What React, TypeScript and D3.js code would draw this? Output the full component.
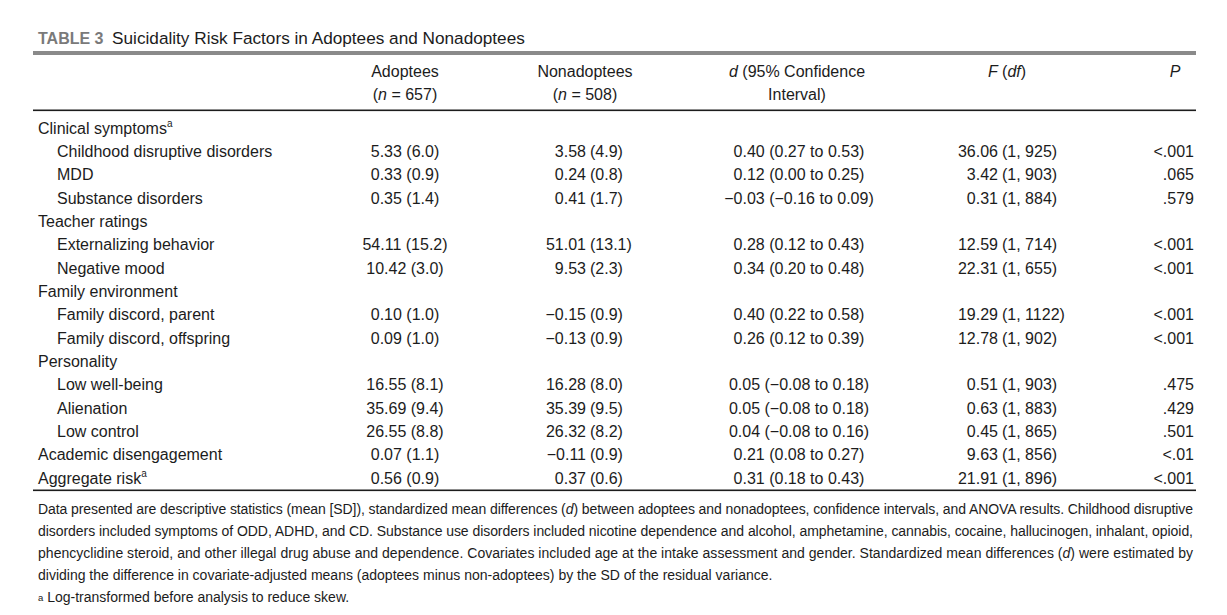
import React, { useEffect, useRef } from 'react';
import * as d3 from 'd3';

const title = 'Suicidality Risk Factors in Adoptees and Nonadoptees';

const rowLabels = [
  'Clinical symptoms', 'Childhood disruptive disorders', 'MDD', 'Substance disorders',
  'Teacher ratings', 'Externalizing behavior', 'Negative mood',
  'Family environment', 'Family discord, parent', 'Family discord, offspring',
  'Personality', 'Low well-being', 'Alienation', 'Low control',
  'Academic disengagement', 'Aggregate risk',
];
const rowIndent = [0, 1, 1, 1, 0, 1, 1, 0, 1, 1, 0, 1, 1, 1, 0, 0];
const rowSup = [true, false, false, false, false, false, false, false, false, false, false, false, false, false, false, true];

const adopteeMean = ['', '5.33', '0.33', '0.35', '', '54.11', '10.42', '', '0.10', '0.09', '', '16.55', '35.69', '26.55', '0.07', '0.56'];
const adopteeSD = ['', '6.0', '0.9', '1.4', '', '15.2', '3.0', '', '1.0', '1.0', '', '8.1', '9.4', '8.8', '1.1', '0.9'];
const nonMean = ['', '3.58', '0.24', '0.41', '', '51.01', '9.53', '', '−0.15', '−0.13', '', '16.28', '35.39', '26.32', '−0.11', '0.37'];
const nonSD = ['', '4.9', '0.8', '1.7', '', '13.1', '2.3', '', '0.9', '0.9', '', '8.0', '9.5', '8.2', '0.9', '0.6'];
const dValues = ['', '0.40', '0.12', '−0.03', '', '0.28', '0.34', '', '0.40', '0.26', '', '0.05', '0.05', '0.04', '0.21', '0.31'];
const ciLow = ['', '0.27', '0.00', '−0.16', '', '0.12', '0.20', '', '0.22', '0.12', '', '−0.08', '−0.08', '−0.08', '0.08', '0.18'];
const ciHigh = ['', '0.53', '0.25', '0.09', '', '0.43', '0.48', '', '0.58', '0.39', '', '0.18', '0.18', '0.16', '0.27', '0.43'];
const fValues = ['', '36.06', '3.42', '0.31', '', '12.59', '22.31', '', '19.29', '12.78', '', '0.51', '0.63', '0.45', '9.63', '21.91'];
const dfValues = ['', '1, 925', '1, 903', '1, 884', '', '1, 714', '1, 655', '', '1, 1122', '1, 902', '', '1, 903', '1, 883', '1, 865', '1, 856', '1, 896'];
const pValues = ['', '<.001', '.065', '.579', '', '<.001', '<.001', '', '<.001', '<.001', '', '.475', '.429', '.501', '<.01', '<.001'];

const footLines = [
  'Data presented are descriptive statistics (mean [SD]), standardized mean differences (|d|) between adoptees and nonadoptees, confidence intervals, and ANOVA results. Childhood disruptive',
  'disorders included symptoms of ODD, ADHD, and CD. Substance use disorders included nicotine dependence and alcohol, amphetamine, cannabis, cocaine, hallucinogen, inhalant, opioid,',
  'phencyclidine steroid, and other illegal drug abuse and dependence. Covariates included age at the intake assessment and gender. Standardized mean differences (|d|) were estimated by',
  'dividing the difference in covariate-adjusted means (adoptees minus non-adoptees) by the SD of the residual variance.',
];
const footJustify = [true, true, true, false];
const footNote = 'Log-transformed before analysis to reduce skew.';

const W = 1227;
const H = 615;
const FONT = '"Liberation Sans", Arial, sans-serif';
const INK = '#1c1c1c';

const App = () => {
  const ref = useRef<SVGSVGElement>(null);

  useEffect(() => {
    const svg = d3.select(ref.current);
    svg.selectAll('*').remove();

    const left = 33, right = 1196;
    const col = { adopt: 405, nonSplit: 587, d: 799, fSplit: 998, p: 1194 };

    // title
    const t = svg.append('text').attr('x', 38).attr('y', 44)
      .style('font-family', FONT);
    t.append('tspan').text('TABLE 3').attr('font-weight', 'bold').attr('fill', '#7a7a7a').attr('font-size', 16);
    t.append('tspan').text('\u2002' + title).attr('fill', INK).attr('font-size', 17.2);

    svg.append('rect').attr('x', left).attr('y', 51).attr('width', right - left).attr('height', 4).attr('fill', '#8a8a8a');

    const g = svg.append('g').style('font-family', FONT).style('font-size', '16px').attr('fill', INK);

    // header
    const hdr = (x: number, y: number, anchor = 'middle') =>
      g.append('text').attr('x', x).attr('y', y).attr('text-anchor', anchor);
    hdr(col.adopt, 77).text('Adoptees');
    const a2 = hdr(col.adopt, 100);
    a2.append('tspan').text('(');
    a2.append('tspan').text('n').attr('font-style', 'italic');
    a2.append('tspan').text(' = 657)');
    hdr(585, 77).text('Nonadoptees');
    const n2 = hdr(585, 100);
    n2.append('tspan').text('(');
    n2.append('tspan').text('n').attr('font-style', 'italic');
    n2.append('tspan').text(' = 508)');
    const d1 = hdr(797, 77);
    d1.append('tspan').text('d').attr('font-style', 'italic');
    d1.append('tspan').text(' (95% Confidence');
    hdr(797, 100).text('Interval)');
    const f1 = hdr(1007, 77);
    f1.append('tspan').text('F').attr('font-style', 'italic');
    f1.append('tspan').text(' (');
    f1.append('tspan').text('df').attr('font-style', 'italic');
    f1.append('tspan').text(')');
    hdr(1175, 77).text('P').attr('font-style', 'italic');

    svg.append('rect').attr('x', left).attr('y', 109.5).attr('width', right - left).attr('height', 1.6).attr('fill', INK);

    // rows
    const y = d3.scalePoint<number>().domain(d3.range(rowLabels.length)).range([128, 478]);
    const base = 5.5;

    rowLabels.forEach((label, i) => {
      const yy = (y(i) as number) + base;
      const lt = g.append('text').attr('x', rowIndent[i] ? 57 : 38).attr('y', yy).text(label);
      if (rowSup[i]) {
        lt.append('tspan').text('a').attr('font-size', 10).attr('dy', -7);
      }
      if (!adopteeMean[i]) return;
      g.append('text').attr('x', col.adopt).attr('y', yy).attr('text-anchor', 'middle')
        .text(`${adopteeMean[i]} (${adopteeSD[i]})`);
      g.append('text').attr('x', col.nonSplit - 1).attr('y', yy).attr('text-anchor', 'end').text(nonMean[i]);
      g.append('text').attr('x', col.nonSplit + 3).attr('y', yy).text(`(${nonSD[i]})`);
      g.append('text').attr('x', col.d).attr('y', yy).attr('text-anchor', 'middle')
        .text(`${dValues[i]} (${ciLow[i]} to ${ciHigh[i]})`);
      g.append('text').attr('x', col.fSplit).attr('y', yy).attr('text-anchor', 'end').text(fValues[i]);
      g.append('text').attr('x', col.fSplit + 4).attr('y', yy).text(`(${dfValues[i]})`);
      g.append('text').attr('x', col.p).attr('y', yy).attr('text-anchor', 'end').text(pValues[i]);
    });

    svg.append('rect').attr('x', left).attr('y', 489.5).attr('width', right - left).attr('height', 1.6).attr('fill', INK);

    // footnotes
    const fg = svg.append('g').style('font-family', FONT).style('font-size', '14px').attr('fill', INK);
    const fy = d3.scalePoint<number>().domain(d3.range(5)).range([509, 597]);
    footLines.forEach((line, i) => {
      const ft = fg.append('text').attr('x', 38).attr('y', (fy(i) as number) + 5);
      if (footJustify[i]) ft.attr('textLength', 1193 - 38).attr('lengthAdjust', 'spacing');
      line.split('|').forEach((part, k) => {
        const sp = ft.append('tspan').text(part);
        if (k % 2 === 1) sp.attr('font-style', 'italic');
      });
    });
    const last = fg.append('text').attr('x', 38).attr('y', (fy(4) as number) + 5);
    last.append('tspan').text('a').attr('font-size', 9.5).attr('dy', -1);
    last.append('tspan').text(' ' + footNote).attr('dy', 1);
  }, []);

  return (
    <div style={{ position: 'absolute', left: 0, top: 0, background: '#fff' }}>
      <svg ref={ref} width={W} height={H} style={{ display: 'block' }} />
    </div>
  );
};

export default App;
